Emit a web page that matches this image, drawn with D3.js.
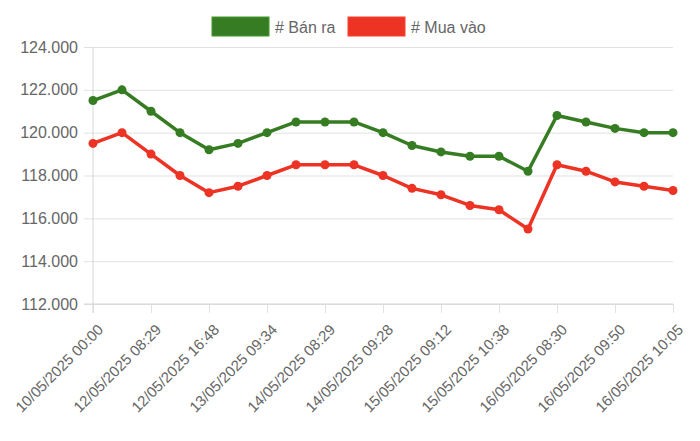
<!DOCTYPE html>
<html>
<head>
<meta charset="utf-8">
<script src="https://cdn.jsdelivr.net/npm/d3@7"></script>
<style>
  body { margin: 0; background: #fff; }
  text { font-family: "Liberation Sans", Arial, sans-serif; fill: #666; }
</style>
</head>
<body>
<div id="chart"></div>
<script>
// labels between the shown ones are not visible in the picture
var labels = ["10/05/2025 00:00", null, "12/05/2025 08:29", null, "12/05/2025 16:48", null,
  "13/05/2025 09:34", null, "14/05/2025 08:29", null, "14/05/2025 09:28", null,
  "15/05/2025 09:12", null, "15/05/2025 10:38", null, "16/05/2025 08:30", null,
  "16/05/2025 09:50", null, "16/05/2025 10:05"];
var banRa = [121500, 122000, 121000, 120000, 119200, 119500, 120000, 120500, 120500, 120500,
  120000, 119400, 119100, 118900, 118900, 118200, 120800, 120500, 120200, 120000, 120000];
var muaVao = [119500, 120000, 119000, 118000, 117200, 117500, 118000, 118500, 118500, 118500,
  118000, 117400, 117100, 116600, 116400, 115500, 118500, 118200, 117700, 117500, 117300];
var yTicks = [112000, 114000, 116000, 118000, 120000, 122000, 124000];
var series = [
  { name: "# Bán ra", values: banRa, color: "#367c22" },
  { name: "# Mua vào", values: muaVao, color: "#ec3324" }
];

var W = 700, H = 441;
var margin = { top: 47, right: 27, bottom: 137, left: 93 };

var svg = d3.select("#chart").append("svg").attr("width", W).attr("height", H);

var x = d3.scalePoint().domain(d3.range(labels.length)).range([margin.left, W - margin.right]);
var y = d3.scaleLinear().domain([112000, 124000]).range([H - margin.bottom, margin.top]);

var fmt = function (v) { return d3.format(",")(v).replace(/,/g, "."); };

// horizontal grid + y ticks
var yAxis = svg.append("g").attr("transform", "translate(" + margin.left + ",0)")
  .call(d3.axisLeft(y).tickValues(yTicks).tickFormat(fmt)
    .tickSize(-(W - margin.left - margin.right)).tickPadding(15));
yAxis.select(".domain").remove();
yAxis.selectAll(".tick line").attr("stroke", "#e1e1e1").attr("x1", -9);
yAxis.selectAll(".tick text").style("font-size", "16px").attr("fill", "#666");

// vertical grid on labelled points only
var shown = d3.range(labels.length).filter(function (i) { return labels[i] !== null; });
var xAxis = svg.append("g").attr("transform", "translate(0," + (H - margin.bottom) + ")")
  .call(d3.axisBottom(x).tickValues(shown).tickFormat(function (i) { return labels[i]; })
    .tickSize(-(H - margin.top - margin.bottom)));
xAxis.select(".domain").remove();
xAxis.selectAll(".tick line").attr("stroke", "#e1e1e1").attr("y2", 9);
xAxis.selectAll(".tick text")
  .style("font-size", "15px").attr("fill", "#666")
  .attr("text-anchor", "end")
  .attr("transform", "translate(7,23) rotate(-45)")
  .attr("x", 0).attr("y", 0).attr("dy", "0.35em");

// axis border lines
svg.append("line").attr("x1", margin.left).attr("x2", margin.left)
  .attr("y1", margin.top).attr("y2", H - margin.bottom + 9).attr("stroke", "#d6d6d6");
svg.append("line").attr("x1", margin.left - 9).attr("x2", W - margin.right)
  .attr("y1", H - margin.bottom).attr("y2", H - margin.bottom).attr("stroke", "#d6d6d6");

var line = d3.line().x(function (d, i) { return x(i); }).y(function (d) { return y(d); });

series.forEach(function (s) {
  svg.append("path").datum(s.values).attr("d", line)
    .attr("fill", "none").attr("stroke", s.color).attr("stroke-width", 3.5)
    .attr("stroke-linejoin", "round");
  svg.selectAll(null).data(s.values).enter().append("circle")
    .attr("cx", function (d, i) { return x(i); })
    .attr("cy", function (d) { return y(d); })
    .attr("r", 4.5).attr("fill", s.color);
});

// legend
var legend = svg.append("g");
var lx = [212, 348];
series.forEach(function (s, i) {
  legend.append("rect").attr("x", lx[i]).attr("y", 17).attr("width", 57).attr("height", 19)
    .attr("fill", s.color).attr("stroke", d3.color(s.color).brighter(0.6)).attr("stroke-width", 1);
  legend.append("text").attr("x", lx[i] + 63).attr("y", 27).attr("dy", "0.35em")
    .style("font-size", "16px").text(s.name);
});
</script>
</body>
</html>
